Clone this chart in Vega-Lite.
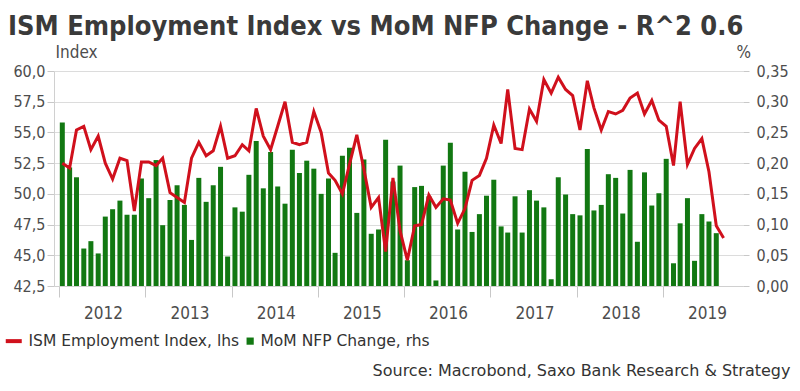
{
 "$schema": "https://vega.github.io/schema/vega-lite/v6.json",
 "width": 689, "height": 215,
 "autosize": {"type": "none"},
 "padding": {"left": 54, "top": 71, "right": 57, "bottom": 105},
 "background": "white",
 "title": {"text": "ISM Employment Index vs MoM NFP Change - R^2 0.6", "anchor": "start", "frame": "group", "dx": -46, "offset": 2, "font": "DejaVu Sans Condensed", "fontSize": 27, "fontWeight": "bold", "color": "#3a3a3a"},
 "config": {
  "locale": {"number": {"decimal": ",", "thousands": ".", "grouping": [3], "currency": ["", ""]}},
  "view": {"stroke": null},
  "axis": {"labelFont": "DejaVu Sans Condensed", "labelFontSize": 16, "labelColor": "#4d4d4d", "titleFont": "DejaVu Sans Condensed", "titleFontSize": 17, "titleFontWeight": "normal", "titleColor": "#4d4d4d", "tickColor": "#c8c8c8", "domainColor": "#d0d0d0", "gridColor": "#dcdcdc", "labelFlush": false}
 },
 "data": {"values": [
  {"d":"2012-01-15","ism":52.5,"nfp":0.266},{"d":"2012-02-15","ism":52.1,"nfp":0.193},{"d":"2012-03-15","ism":55.2,"nfp":0.177},{"d":"2012-04-15","ism":55.5,"nfp":0.061},{"d":"2012-05-15","ism":53.6,"nfp":0.073},{"d":"2012-06-15","ism":54.7,"nfp":0.053},{"d":"2012-07-15","ism":52.5,"nfp":0.113},{"d":"2012-08-15","ism":51.2,"nfp":0.125},{"d":"2012-09-15","ism":52.9,"nfp":0.139},{"d":"2012-10-15","ism":52.7,"nfp":0.116},{"d":"2012-11-15","ism":48.6,"nfp":0.116},{"d":"2012-12-15","ism":52.6,"nfp":0.175},
  {"d":"2013-01-15","ism":52.6,"nfp":0.143},{"d":"2013-02-15","ism":52.3,"nfp":0.205},{"d":"2013-03-15","ism":52.9,"nfp":0.099},{"d":"2013-04-15","ism":50.1,"nfp":0.140},{"d":"2013-05-15","ism":49.7,"nfp":0.164},{"d":"2013-06-15","ism":49.3,"nfp":0.132},{"d":"2013-07-15","ism":52.9,"nfp":0.075},{"d":"2013-08-15","ism":54.2,"nfp":0.176},{"d":"2013-09-15","ism":53.1,"nfp":0.137},{"d":"2013-10-15","ism":53.5,"nfp":0.164},{"d":"2013-11-15","ism":55.5,"nfp":0.194},{"d":"2013-12-15","ism":52.9,"nfp":0.048},
  {"d":"2014-01-15","ism":53.1,"nfp":0.128},{"d":"2014-02-15","ism":54.0,"nfp":0.121},{"d":"2014-03-15","ism":53.5,"nfp":0.181},{"d":"2014-04-15","ism":56.95,"nfp":0.236},{"d":"2014-05-15","ism":54.7,"nfp":0.159},{"d":"2014-06-15","ism":53.6,"nfp":0.218},{"d":"2014-07-15","ism":55.5,"nfp":0.162},{"d":"2014-08-15","ism":57.5,"nfp":0.134},{"d":"2014-09-15","ism":54.2,"nfp":0.222},{"d":"2014-10-15","ism":54.0,"nfp":0.184},{"d":"2014-11-15","ism":54.2,"nfp":0.204},{"d":"2014-12-15","ism":56.7,"nfp":0.191},
  {"d":"2015-01-15","ism":55.0,"nfp":0.150},{"d":"2015-02-15","ism":51.7,"nfp":0.175},{"d":"2015-03-15","ism":51.1,"nfp":0.054},{"d":"2015-04-15","ism":50.0,"nfp":0.212},{"d":"2015-05-15","ism":52.4,"nfp":0.225},{"d":"2015-06-15","ism":54.8,"nfp":0.119},{"d":"2015-07-15","ism":52.0,"nfp":0.206},{"d":"2015-08-15","ism":48.9,"nfp":0.085},{"d":"2015-09-15","ism":49.7,"nfp":0.092},{"d":"2015-10-15","ism":45.3,"nfp":0.238},{"d":"2015-11-15","ism":51.3,"nfp":0.17},{"d":"2015-12-15","ism":47.0,"nfp":0.196},
  {"d":"2016-01-15","ism":44.6,"nfp":0.042},{"d":"2016-02-15","ism":47.4,"nfp":0.161},{"d":"2016-03-15","ism":47.5,"nfp":0.163},{"d":"2016-04-15","ism":49.9,"nfp":0.146},{"d":"2016-05-15","ism":48.9,"nfp":0.009},{"d":"2016-06-15","ism":49.6,"nfp":0.196},{"d":"2016-07-15","ism":49.5,"nfp":0.233},{"d":"2016-08-15","ism":47.6,"nfp":0.092},{"d":"2016-09-15","ism":48.8,"nfp":0.186},{"d":"2016-10-15","ism":51.1,"nfp":0.088},{"d":"2016-11-15","ism":51.5,"nfp":0.117},{"d":"2016-12-15","ism":52.9,"nfp":0.147},
  {"d":"2017-01-15","ism":55.6,"nfp":0.173},{"d":"2017-02-15","ism":54.1,"nfp":0.097},{"d":"2017-03-15","ism":58.5,"nfp":0.087},{"d":"2017-04-15","ism":53.7,"nfp":0.146},{"d":"2017-05-15","ism":53.6,"nfp":0.087},{"d":"2017-06-15","ism":56.9,"nfp":0.156},{"d":"2017-07-15","ism":55.9,"nfp":0.139},{"d":"2017-08-15","ism":59.3,"nfp":0.128},{"d":"2017-09-15","ism":58.2,"nfp":0.011},{"d":"2017-10-15","ism":59.5,"nfp":0.177},{"d":"2017-11-15","ism":58.5,"nfp":0.149},{"d":"2017-12-15","ism":58.0,"nfp":0.117},
  {"d":"2018-01-15","ism":55.2,"nfp":0.115},{"d":"2018-02-15","ism":59.2,"nfp":0.223},{"d":"2018-03-15","ism":57.0,"nfp":0.123},{"d":"2018-04-15","ism":55.2,"nfp":0.132},{"d":"2018-05-15","ism":56.7,"nfp":0.182},{"d":"2018-06-15","ism":56.5,"nfp":0.176},{"d":"2018-07-15","ism":56.8,"nfp":0.118},{"d":"2018-08-15","ism":57.8,"nfp":0.189},{"d":"2018-09-15","ism":58.2,"nfp":0.072},{"d":"2018-10-15","ism":56.5,"nfp":0.185},{"d":"2018-11-15","ism":57.6,"nfp":0.131},{"d":"2018-12-15","ism":56.0,"nfp":0.151},
  {"d":"2019-01-15","ism":55.5,"nfp":0.207},{"d":"2019-02-15","ism":52.3,"nfp":0.037},{"d":"2019-03-15","ism":57.5,"nfp":0.102},{"d":"2019-04-15","ism":52.4,"nfp":0.143},{"d":"2019-05-15","ism":53.7,"nfp":0.041},{"d":"2019-06-15","ism":54.5,"nfp":0.117},{"d":"2019-07-15","ism":51.8,"nfp":0.105},{"d":"2019-08-15","ism":47.4,"nfp":0.086},{"d":"2019-09-15","ism":46.4,"nfp":null}
 ]},
 "layer": [
  {
   "mark": {"type": "bar", "size": 5},
   "encoding": {
    "x": {"field": "d", "type": "temporal",
      "scale": {"domain": [{"year": 2012, "month": 1, "date": 1}, {"year": 2019, "month": 11, "date": 15}]},
      "axis": {"format": "%Y", "tickCount": {"interval": "year", "step": 1}, "labelOffset": 44, "labelAlign": "center", "labelBaseline": "top", "labelPadding": 8, "tickSize": 11, "grid": false, "domain": true, "labelOverlap": false, "labelFontSize": 17,
        "title": "Source: Macrobond, Saxo Bank Research & Strategy", "titleX": 736, "titleY": 89, "titleAlign": "right", "titleBaseline": "alphabetic", "titleColor": "#333333", "titleFont": "DejaVu Sans", "titleFontSize": 16}},
    "y": {"field": "nfp", "type": "quantitative",
      "scale": {"domain": [0, 0.35], "nice": false},
      "axis": {"orient": "right", "values": [0, 0.05, 0.1, 0.15, 0.2, 0.25, 0.3, 0.35], "format": ".2f", "grid": false, "domain": false, "tickSize": 6, "labelPadding": 7,
        "title": "%", "titleAngle": 0, "titleX": -7, "titleY": -14, "titleAlign": "left", "titleBaseline": "alphabetic"}},
    "color": {"datum": "MoM NFP Change, rhs", "type": "nominal",
      "scale": {"domain": ["ISM Employment Index, lhs", "MoM NFP Change, rhs"], "range": ["#d0101c", "#127812"]},
      "legend": {"orient": "none", "legendX": -44, "legendY": 262, "direction": "horizontal", "title": null, "padding": 0, "labelLimit": 0,
        "labelFont": "DejaVu Sans", "labelFontSize": 15.5, "labelColor": "#333333", "symbolSize": 64, "labelOffset": 3, "columnPadding": 2,
        "encode": {"symbols": {"update": {
          "shape": {"signal": "datum.value === 'ISM Employment Index, lhs' ? 'M-3,-0.5H1V0.5H-3Z' : 'M-0.8,-0.9H1V0.9H-0.8Z'"},
          "fill": {"scale": "color", "field": "value"},
          "stroke": {"value": "transparent"},
          "strokeWidth": {"value": 0},
          "opacity": {"value": 1}}}}}}
   }
  },
  {
   "mark": {"type": "line", "strokeWidth": 3},
   "encoding": {
    "x": {"field": "d", "type": "temporal"},
    "y": {"field": "ism", "type": "quantitative",
      "scale": {"domain": [42.5, 60], "nice": false, "zero": false},
      "axis": {"orient": "left", "values": [42.5, 45, 47.5, 50, 52.5, 55, 57.5, 60], "format": ".1f", "grid": true, "tickSize": 7, "labelPadding": 2, "domain": true,
        "title": "Index", "titleAngle": 0, "titleX": 1, "titleY": -14, "titleAlign": "left", "titleBaseline": "alphabetic"}},
    "color": {"datum": "ISM Employment Index, lhs", "type": "nominal"}
   }
  }
 ],
 "resolve": {"scale": {"y": "independent"}}
}
